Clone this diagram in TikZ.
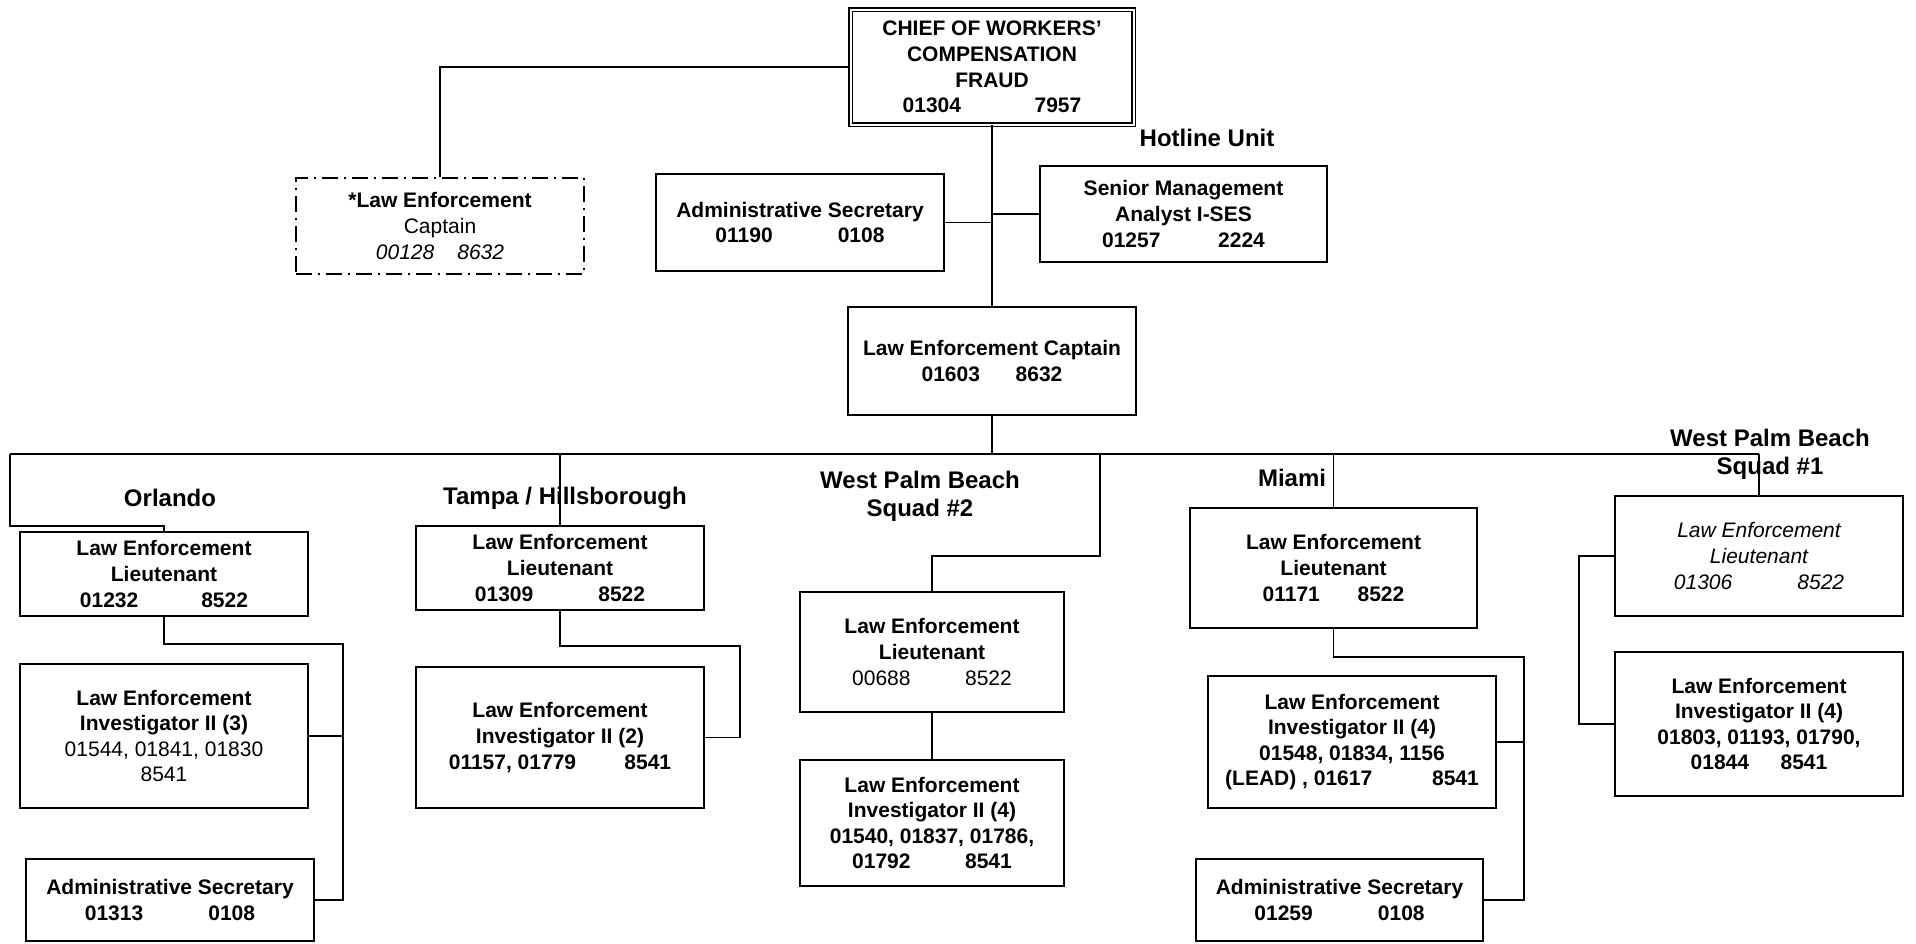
\documentclass[tikz,border=0pt]{standalone}
\usepackage{fontspec}
\setmainfont{Liberation Sans}

\begin{document}
\begin{tikzpicture}[x=0.5pt,y=-0.5pt,
  post/.style={draw,line width=1pt,inner sep=0pt,align=center,
    font=\fontsize{10.5}{12.8}\selectfont\bfseries},
  wh/.style 2 args={minimum width=#1*0.5pt,minimum height=#2*0.5pt},
  unit/.style={align=center,font=\fontsize{12}{14}\selectfont\bfseries},
  link/.style={line width=0.7pt}]

\useasboundingbox (0,0) rectangle (1916,943);

% top of the office
\node[post,double,double distance=1pt,line width=0.75pt,wh={283}{115}] (chief) at (992,67)
  {CHIEF OF WORKERS’\\COMPENSATION\\FRAUD\\01304\hspace{3.5em}7957};
\node[post,dash pattern=on 8pt off 3pt on 1pt off 3pt,wh={288}{96}] (capt0) at (440,226)
  {*Law Enforcement\\{\mdseries Captain}\\{\mdseries\itshape 00128\hspace{1.1em}8632}};
\node[post,wh={288}{97}] (admsec) at (800,222.5) {Administrative Secretary\\01190\hspace{3.1em}0108};
\node[post,wh={287}{96}] (sma) at (1183.5,214) {Senior Management\\Analyst I-SES\\01257\hspace{2.75em}2224};
\node[unit] (hotline) at (1207,138) {Hotline Unit};
\node[post,wh={288}{108}] (captain) at (992,361) {Law Enforcement Captain\\01603\hspace{1.7em}8632};

% field offices
\node[unit] (orl) at (170,498) {Orlando};
\node[unit] (tpa) at (565,498) {Tampa / Hillsborough};
\node[unit] (wpb2) at (920,496) {West Palm Beach\\Squad \#2};
\node[unit] (mia) at (1292,478) {Miami};
\node[unit] (wpb1) at (1770,454) {West Palm Beach\\Squad \#1};

% Orlando
\node[post,wh={288}{84}] (orlLt) at (164,574) {Law Enforcement\\Lieutenant\\01232\hspace{3em}8522};
\node[post,wh={288}{144}] (orlInv) at (164,736)
  {Law Enforcement\\Investigator II (3)\\{\mdseries 01544, 01841, 01830}\\{\mdseries 8541}};
\node[post,wh={288}{82}] (orlAdm) at (170,900) {Administrative Secretary\\01313\hspace{3.1em}0108};

% Tampa
\node[post,wh={288}{84}] (tpaLt) at (560,568) {Law Enforcement\\Lieutenant\\01309\hspace{3.1em}8522};
\node[post,wh={288}{141}] (tpaInv) at (560,737.5) {Law Enforcement\\Investigator II (2)\\01157, 01779\hspace{2.3em}8541};

% West Palm Beach, squad 2
\node[post,wh={264}{120}] (wpbLt) at (932,652)
  {Law Enforcement\\Lieutenant\\{\mdseries 00688\hspace{2.6em}8522}};
\node[post,wh={264}{126}] (wpbInv) at (932,823)
  {Law Enforcement\\Investigator II (4)\\01540, 01837, 01786,\\01792\hspace{2.6em}8541};

% Miami
\node[post,wh={287}{120}] (miaLt) at (1333.5,568) {Law Enforcement\\Lieutenant\\01171\hspace{1.8em}8522};
\node[post,wh={288}{132}] (miaInv) at (1352,742)
  {Law Enforcement\\Investigator II (4)\\01548, 01834, 1156\\(LEAD) , 01617\hspace{2.85em}8541};
\node[post,wh={287}{82}] (miaAdm) at (1339.5,900) {Administrative Secretary\\01259\hspace{3.1em}0108};

% West Palm Beach, squad 1
\node[post,wh={288}{120},font=\fontsize{10.5}{12.8}\selectfont\itshape] (wpaLt) at (1759,556)
  {Law Enforcement\\Lieutenant\\01306\hspace{3.1em}8522};
\node[post,wh={288}{144}] (wpaInv) at (1759,724)
  {Law Enforcement\\Investigator II (4)\\01803, 01193, 01790,\\01844\hspace{1.5em}8541};

% bus and bends
\coordinate (busL) at (10,454);
\coordinate (busR) at (1759,454);
\coordinate (orlBend) at (10,526);
\coordinate (wpbBend) at (1100,556);
\coordinate (orlRail) at (343,644);
\coordinate (tpaRail) at (740,646);
\coordinate (miaRail) at (1524,657);
\coordinate (wpaRail) at (1579,556);

% lines
\draw[link] (chief.west) -| (capt0.north);
\draw[link] (chief.south) -- (captain.north);
\draw[link] (admsec.east) -- (admsec.east -| chief.south);
\draw[link] (sma.west) -- (sma.west -| chief.south);
\draw[link] (captain.south) -- (captain.south |- busL);
\draw[link] (busL) -- (busR);
\draw[link] (busL) -- (orlBend) -| (orlLt.north);
\draw[link] (tpaLt.north |- busL) -- (tpaLt.north);
\draw[link] (wpbBend |- busL) -- (wpbBend) -| (wpbLt.north);
\draw[link] (miaLt.north |- busL) -- (miaLt.north);
\draw[link] (busR) -- (wpaLt.north);

\draw[link] (orlLt.south) |- (orlRail) -- (orlRail |- orlAdm.east) -- (orlAdm.east);
\draw[link] (orlInv.east) -- (orlInv.east -| orlRail);
\draw[link] (tpaLt.south) |- (tpaRail) |- (tpaInv.east);
\draw[link] (wpbLt.south) -- (wpbInv.north);
\draw[link] (miaLt.south) |- (miaRail) -- (miaRail |- miaAdm.east) -- (miaAdm.east);
\draw[link] (miaInv.east) -- (miaInv.east -| miaRail);
\draw[link] (wpaLt.west) -- (wpaRail) |- (wpaInv.west);

\end{tikzpicture}
\end{document}
